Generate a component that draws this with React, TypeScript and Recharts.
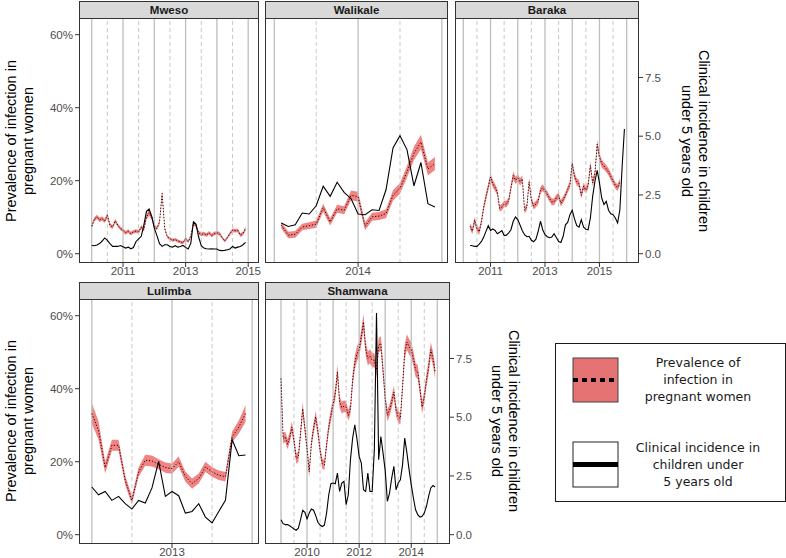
import React from "react";
import { ComposedChart, Area, Line, XAxis, YAxis, ReferenceLine } from "recharts";

// monthly series, first month given per site
const mwesoPrev = [7.5, 9.4, 10.1, 9.3, 9.6, 9.0, 10.5, 7.8, 7.3, 9.0, 7.8, 6.9, 6.4, 5.7, 6.2, 5.5, 6.0, 6.2, 6.0, 7.3, 6.6, 10.1, 11.2, 10.1, 7.5, 6.9, 8.7, 16.5, 6.9, 4.6, 4.1, 3.7, 3.9, 3.5, 3.2, 3.0, 4.1, 3.3, 4.8, 8.4, 7.8, 5.7, 5.3, 5.5, 5.1, 5.7, 5.0, 5.5, 5.7, 5.5, 4.4, 3.5, 4.4, 5.5, 6.4, 6.3, 6.4, 5.1, 5.5, 6.9];
const mwesoBand = [0.6, 0.6, 0.6, 0.6, 0.6, 0.6, 0.7, 0.6, 0.5, 0.6, 0.5, 0.5, 0.5, 0.5, 0.5, 0.5, 0.5, 0.5, 0.5, 0.5, 0.5, 0.7, 0.8, 0.7, 0.5, 0.5, 0.6, 0.9, 0.5, 0.4, 0.4, 0.4, 0.4, 0.4, 0.4, 0.4, 0.4, 0.4, 0.4, 0.6, 0.6, 0.5, 0.5, 0.5, 0.5, 0.5, 0.5, 0.5, 0.5, 0.5, 0.4, 0.4, 0.4, 0.5, 0.5, 0.5, 0.5, 0.5, 0.5, 0.6];
const mwesoInc = [0.35, 0.34, 0.37, 0.43, 0.54, 0.67, 0.57, 0.43, 0.31, 0.31, 0.31, 0.35, 0.30, 0.24, 0.28, 0.21, 0.26, 0.52, 0.63, 0.74, 1.23, 1.80, 1.90, 1.59, 1.09, 0.77, 0.43, 0.31, 0.38, 0.38, 0.31, 0.28, 0.34, 0.28, 0.31, 0.35, 0.27, 0.20, 0.45, 1.35, 1.25, 0.71, 0.34, 0.24, 0.21, 0.20, 0.21, 0.20, 0.20, 0.14, 0.13, 0.14, 0.17, 0.20, 0.31, 0.24, 0.28, 0.31, 0.38, 0.48];

const walikalePrev = [7.8, 5.1, 5.3, 7.3, 7.7, 8.1, 12.6, 8.7, 12.3, 11.9, 16.0, 15.6, 7.5, 10.1, 10.3, 11.0, 16.0, 17.9, 22.4, 27.5, 30.6, 23.2, 24.7];
const walikaleBand = [0.9, 0.9, 0.9, 0.9, 0.9, 1.0, 1.1, 1.0, 1.1, 1.1, 1.3, 1.4, 1.1, 1.1, 1.1, 1.2, 1.4, 1.5, 1.6, 1.8, 2.0, 1.8, 1.8];
const walikaleInc = [1.31, 1.16, 1.23, 1.73, 1.69, 2.04, 2.87, 2.44, 3.04, 2.61, 2.34, 1.69, 1.66, 1.87, 1.84, 2.72, 4.50, 5.02, 4.43, 2.89, 3.88, 2.13, 1.99];

const barakaPrev = [7.5, 6.2, 9.2, 6.9, 6.0, 8.8, 12.8, 15.6, 18.3, 21.0, 19.2, 18.1, 16.9, 12.4, 12.8, 13.6, 13.6, 14.5, 18.1, 21.4, 20.1, 20.8, 19.7, 20.5, 11.9, 12.8, 19.7, 14.7, 13.0, 13.6, 14.4, 17.4, 18.1, 17.2, 16.3, 15.1, 14.2, 14.2, 15.3, 15.8, 13.8, 14.8, 16.0, 17.6, 19.0, 24.7, 21.2, 19.7, 19.2, 16.0, 18.5, 17.4, 18.7, 24.2, 19.4, 21.9, 30.0, 26.5, 24.7, 24.0, 23.3, 22.4, 21.2, 19.9, 18.7, 18.1, 19.7];
const barakaBand = [0.9, 0.9, 0.9, 0.9, 0.9, 0.9, 0.9, 1.0, 1.0, 1.1, 1.0, 1.0, 0.9, 0.9, 0.9, 0.9, 0.9, 0.9, 1.0, 1.1, 1.0, 1.0, 1.0, 1.0, 0.9, 0.9, 1.0, 0.9, 0.9, 0.9, 0.9, 0.9, 0.9, 0.9, 0.9, 0.9, 0.9, 0.9, 0.9, 0.9, 0.9, 0.9, 0.9, 0.9, 1.0, 1.1, 1.0, 1.0, 1.0, 0.9, 1.0, 0.9, 1.0, 1.1, 1.0, 1.0, 1.2, 1.1, 1.1, 1.0, 1.0, 1.0, 1.0, 1.0, 0.9, 0.9, 1.0];
const barakaInc = [0.35, 0.34, 0.31, 0.31, 0.41, 0.52, 0.71, 0.95, 1.19, 0.99, 1.05, 0.99, 0.85, 0.91, 0.98, 0.77, 0.79, 0.89, 1.02, 1.38, 1.56, 1.45, 1.22, 0.98, 0.81, 0.72, 0.74, 0.57, 0.51, 0.62, 0.95, 1.38, 1.02, 0.81, 0.72, 0.68, 0.71, 0.85, 0.69, 0.52, 0.48, 0.74, 1.23, 1.33, 1.66, 1.85, 1.48, 1.19, 1.13, 1.45, 1.13, 1.04, 1.02, 1.52, 2.44, 3.08, 3.55, 3.01, 2.37, 2.09, 2.23, 1.85, 1.70, 1.66, 1.52, 1.31, 1.87, 3.72, 5.31];

const lulimbaPrev = [33.2, 28.6, 18.4, 24.5, 24.5, 14.9, 9.4, 17.2, 20.4, 20.2, 19.3, 18.4, 18.1, 20.0, 15.9, 14.0, 15.4, 18.6, 17.2, 16.3, 15.9, 26.8, 29.5, 33.2];
const lulimbaBand = [2.8, 2.5, 1.6, 1.5, 1.5, 1.3, 1.1, 1.3, 1.5, 1.5, 1.4, 1.4, 1.4, 1.4, 1.4, 1.4, 1.4, 1.4, 1.3, 1.3, 1.3, 1.5, 1.8, 2.3];
const lulimbaInc = [2.03, 1.70, 1.84, 1.46, 1.63, 1.32, 1.09, 1.46, 1.35, 1.99, 3.12, 1.63, 1.84, 1.66, 0.92, 0.99, 1.32, 0.75, 0.50, 0.99, 1.46, 4.04, 3.36, 3.39];

const shamwanaPrev = [42.8, 26.4, 26.8, 24.8, 26.6, 29.5, 25.8, 20.9, 21.3, 27.7, 34.5, 29.1, 23.6, 17.2, 25.0, 29.1, 32.3, 28.2, 23.2, 19.5, 19.1, 24.6, 29.5, 32.7, 35.8, 38.6, 44.6, 36.4, 34.8, 35.2, 35.0, 32.7, 34.5, 42.3, 47.1, 49.6, 50.7, 54.2, 58.3, 51.0, 48.3, 48.9, 47.8, 47.8, 45.1, 51.9, 52.4, 45.1, 37.3, 32.7, 34.1, 36.4, 39.1, 34.1, 32.3, 31.8, 40.5, 50.1, 52.8, 51.5, 50.7, 48.3, 45.1, 44.6, 40.0, 35.0, 37.7, 42.3, 45.9, 50.7, 48.3, 44.6];
const shamwanaBand = [1.6, 1.5, 1.4, 1.4, 1.4, 1.5, 1.4, 1.4, 1.4, 1.5, 1.8, 1.5, 1.4, 1.5, 1.4, 1.5, 1.6, 1.5, 1.4, 1.4, 1.4, 1.4, 1.5, 1.6, 1.6, 1.7, 2.0, 1.6, 1.6, 1.6, 1.6, 1.5, 1.6, 1.8, 1.9, 2.0, 2.0, 2.1, 2.2, 2.0, 1.9, 1.9, 1.9, 1.9, 1.8, 2.0, 2.0, 1.8, 1.7, 1.6, 1.6, 1.7, 1.7, 1.6, 1.6, 1.6, 1.8, 2.0, 2.1, 2.1, 2.0, 2.0, 1.9, 1.9, 1.8, 1.7, 1.7, 1.8, 1.9, 2.0, 1.9, 1.9];
const shamwanaInc = [0.64, 0.47, 0.43, 0.43, 0.38, 0.31, 0.24, 0.19, 0.28, 0.64, 1.04, 0.95, 0.67, 0.92, 1.09, 1.04, 0.81, 0.53, 0.41, 0.35, 0.41, 0.92, 1.70, 2.17, 2.20, 2.17, 2.62, 1.84, 2.20, 2.27, 1.28, 1.70, 3.19, 4.11, 4.68, 4.07, 3.33, 3.05, 1.91, 1.84, 2.62, 1.84, 1.84, 3.60, 9.43, 3.19, 4.18, 3.48, 2.74, 1.42, 1.77, 2.41, 2.91, 1.91, 2.20, 2.34, 2.98, 4.11, 3.48, 2.77, 2.13, 1.56, 1.06, 0.85, 0.75, 0.78, 0.92, 1.21, 1.63, 1.99, 2.09, 2.03];

const prevTicks = [0, 20, 40, 60];
const incTicks = [0, 2.5, 5, 7.5];

const FONT = "'Liberation Sans', Arial, Helvetica, sans-serif";
const PLOT_H = 245;
const X_AXIS_H = 20;
const LEFT_W = 46;
const RIGHT_W = 40;
const PAD = 16;
const PREV_DOMAIN: [number, number] = [-2.55, 64.58];
const INC_DOMAIN: [number, number] = [-0.396, 10.03];

interface PanelDef {
  name: string;
  start: number;
  prev: number[];
  band: number[];
  inc: number[];
  domain: [number, number];
  labels: number[];
  years: number[];
  halves: number[];
  x: number;
  y: number;
  w: number;
  showLeft: boolean;
  showRight: boolean;
}

const panels: PanelDef[] = [
  {
    name: "Mweso", start: 2010, prev: mwesoPrev, band: mwesoBand, inc: mwesoInc,
    domain: [2009.594, 2015.345], labels: [2011, 2013, 2015],
    years: [2010, 2011, 2012, 2013, 2014, 2015], halves: [2010.5, 2011.5, 2012.5, 2013.5, 2014.5],
    x: 79, y: 18, w: 180, showLeft: true, showRight: false,
  },
  {
    name: "Walikale", start: 2013 + 1 / 12, prev: walikalePrev, band: walikaleBand, inc: walikaleInc,
    domain: [2012.889, 2015.073], labels: [2014],
    years: [2013, 2014, 2015], halves: [2013.5, 2014.5],
    x: 265, y: 18, w: 183, showLeft: false, showRight: false,
  },
  {
    name: "Baraka", start: 2010.25, prev: barakaPrev, band: barakaBand, inc: barakaInc,
    domain: [2009.695, 2016.452], labels: [2011, 2013, 2015],
    years: [2010, 2011, 2012, 2013, 2014, 2015, 2016], halves: [2010.5, 2011.5, 2012.5, 2013.5, 2014.5, 2015.5],
    x: 455, y: 18, w: 184, showLeft: false, showRight: true,
  },
  {
    name: "Lulimba", start: 2012, prev: lulimbaPrev, band: lulimbaBand, inc: lulimbaInc,
    domain: [2011.84, 2014.085], labels: [2013],
    years: [2012, 2013, 2014], halves: [2012.5, 2013.5],
    x: 79, y: 299, w: 180, showLeft: true, showRight: false,
  },
  {
    name: "Shamwana", start: 2009, prev: shamwanaPrev, band: shamwanaBand, inc: shamwanaInc,
    domain: [2008.386, 2015.488], labels: [2010, 2012, 2014],
    years: [2009, 2010, 2011, 2012, 2013, 2014, 2015], halves: [2009.5, 2010.5, 2011.5, 2012.5, 2013.5, 2014.5],
    x: 265, y: 299, w: 185, showLeft: false, showRight: true,
  },
];

const tickStyle = { fill: "#4D4D4D", fontSize: 11.5, fontFamily: FONT };

function Panel({ p }: { p: PanelDef }) {
  const n = Math.max(p.prev.length, p.inc.length);
  const rows: any[] = [];
  for (let i = 0; i < n; i++) {
    const v = p.prev[i];
    const w = p.band[i];
    rows.push({
      t: p.start + i / 12,
      prev: v,
      band: v === undefined ? undefined : [v - w, v + w],
      inc: p.inc[i],
    });
  }
  const lw = p.showLeft ? LEFT_W : 0;
  const rw = p.showRight ? RIGHT_W : 0;
  const padL = p.showLeft ? 0 : PAD;
  const padR = p.showRight ? 0 : PAD;
  const cw = padL + lw + p.w + rw + padR;
  const ch = PLOT_H + X_AXIS_H;
  return (
    <>
      <div style={{ position: "absolute", left: p.x - lw - padL, top: p.y, width: cw, height: ch }}>
        <ComposedChart width={cw} height={ch} data={rows} margin={{ top: 0, right: padR, bottom: 0, left: padL }}>
          <XAxis
            type="number"
            dataKey="t"
            domain={p.domain}
            allowDataOverflow
            ticks={p.labels}
            interval={0}
            height={X_AXIS_H}
            axisLine={false}
            tickSize={4}
            tickMargin={0}
            tickLine={{ stroke: "#333333" }}
            tick={tickStyle}
          />
          <YAxis
            yAxisId="l"
            type="number"
            domain={PREV_DOMAIN}
            allowDataOverflow
            ticks={prevTicks}
            interval={0}
            hide={!p.showLeft}
            width={LEFT_W}
            axisLine={false}
            tickSize={4}
            tickMargin={2}
            tickLine={{ stroke: "#333333" }}
            tick={tickStyle}
            tickFormatter={(v: number) => `${v}%`}
          />
          <YAxis
            yAxisId="r"
            orientation="right"
            type="number"
            domain={INC_DOMAIN}
            allowDataOverflow
            ticks={incTicks}
            interval={0}
            hide={!p.showRight}
            width={RIGHT_W}
            axisLine={false}
            tickSize={4}
            tickMargin={2}
            tickLine={{ stroke: "#333333" }}
            tick={tickStyle}
            tickFormatter={(v: number) => v.toFixed(1)}
          />
          {p.years.map((yr) => (
            <ReferenceLine key={"y" + yr} yAxisId="l" x={yr} stroke="#BEBEBE" strokeWidth={1.3} />
          ))}
          {p.halves.map((yr) => (
            <ReferenceLine key={"h" + yr} yAxisId="l" x={yr} stroke="#C8C8C8" strokeWidth={1} strokeDasharray="4 3" />
          ))}
          <Area
            yAxisId="l"
            dataKey="band"
            type="linear"
            stroke="none"
            fill="#EE5A5A"
            fillOpacity={0.75}
            isAnimationActive={false}
          />
          <Line
            yAxisId="l"
            dataKey="prev"
            type="linear"
            stroke="#2a0808"
            strokeWidth={1}
            strokeDasharray="1.3 1.7"
            dot={false}
            isAnimationActive={false}
          />
          <Line
            yAxisId="r"
            dataKey="inc"
            type="linear"
            stroke="#000000"
            strokeWidth={1.1}
            dot={false}
            isAnimationActive={false}
          />
        </ComposedChart>
      </div>
      <div
        style={{
          position: "absolute", left: p.x, top: p.y, width: p.w, height: PLOT_H,
          border: "1px solid #333333", boxSizing: "border-box", pointerEvents: "none",
        }}
      />
      <div
        style={{
          position: "absolute", left: p.x, top: p.y - 17, width: p.w, height: 18,
          background: "#D9D9D9", border: "1px solid #333333", boxSizing: "border-box",
          fontFamily: FONT, fontWeight: "bold", fontSize: 11.5, color: "#1A1A1A",
          textAlign: "center", lineHeight: "16px",
        }}
      >
        {p.name}
      </div>
    </>
  );
}

function AxisTitle({ lines, cx, cy, rot }: { lines: string[]; cx: number; cy: number; rot: number }) {
  const w = 260;
  const h = 36;
  return (
    <div
      style={{
        position: "absolute", left: cx - w / 2, top: cy - h / 2, width: w, height: h,
        transform: `rotate(${rot}deg)`, transformOrigin: "center",
        fontFamily: FONT, fontSize: 14.5, lineHeight: "17px", textAlign: "center", color: "#000",
      }}
    >
      {lines.map((l) => (
        <div key={l}>{l}</div>
      ))}
    </div>
  );
}

const prevTitle = ["Prevalence of infection in", "pregnant women"];
const incTitle = ["Clinical incidence in children", "under 5 years old"];

export default function App() {
  const legendFont = "'DejaVu Sans', Verdana, sans-serif";
  return (
    <div style={{ position: "absolute", left: 0, top: 0, width: 786, height: 558, background: "#fff", overflow: "hidden" }}>
      {panels.map((p) => (
        <Panel key={p.name} p={p} />
      ))}
      <AxisTitle lines={prevTitle} cx={21} cy={140.5} rot={-90} />
      <AxisTitle lines={prevTitle} cx={21} cy={421} rot={-90} />
      <AxisTitle lines={incTitle} cx={693.5} cy={140.5} rot={90} />
      <AxisTitle lines={incTitle} cx={504} cy={421} rot={90} />
      <div
        style={{
          position: "absolute", left: 555, top: 343, width: 231, height: 159,
          border: "1.5px solid #1A1A1A", boxSizing: "border-box", fontFamily: legendFont,
          fontSize: 12.5, lineHeight: "17px", color: "#1A1A1A",
        }}
      >
        <svg width={48} height={48} style={{ position: "absolute", left: 16, top: 13 }}>
          <rect x={1} y={1} width={45} height={44} fill="#E57373" stroke="#444" strokeWidth={1} />
          <line x1={1} y1={23} x2={46} y2={23} stroke="#000" strokeWidth={4} strokeDasharray="5 4" />
        </svg>
        <svg width={48} height={48} style={{ position: "absolute", left: 16, top: 97 }}>
          <rect x={1} y={1} width={45} height={45} fill="#fff" stroke="#222" strokeWidth={1} />
          <line x1={1} y1={23.5} x2={46} y2={23.5} stroke="#000" strokeWidth={5} />
        </svg>
        <div style={{ position: "absolute", left: 62, top: 10, width: 160, textAlign: "center" }}>
          <div>Prevalence of</div>
          <div>infection in</div>
          <div>pregnant women</div>
        </div>
        <div style={{ position: "absolute", left: 62, top: 95, width: 160, textAlign: "center" }}>
          <div>Clinical incidence in</div>
          <div>children under</div>
          <div>5 years old</div>
        </div>
      </div>
    </div>
  );
}
